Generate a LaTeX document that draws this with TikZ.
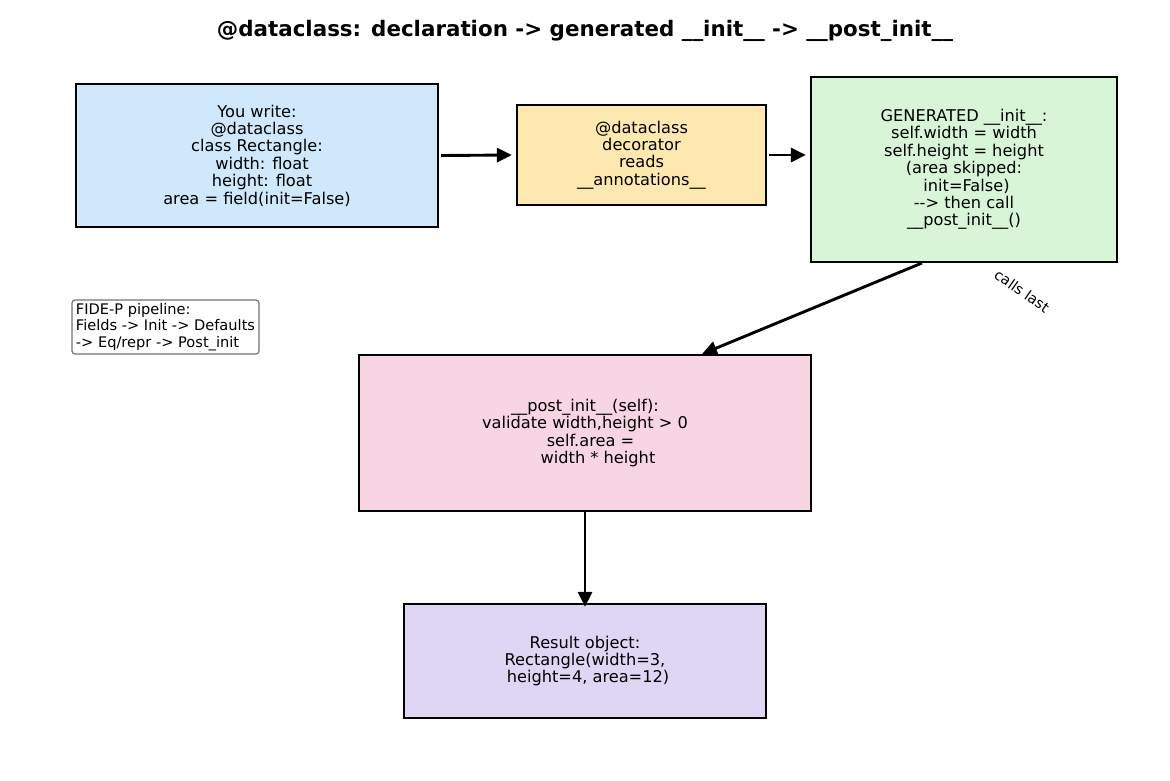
\documentclass[tikz,border=0pt]{standalone}
\usepackage{fontspec}
\setmainfont{DejaVu Sans}
\usetikzlibrary{arrows.meta}
\definecolor{cA}{HTML}{CFE8FC}
\definecolor{cB}{HTML}{FFE8B0}
\definecolor{cC}{HTML}{D8F5D8}
\definecolor{cD}{HTML}{F7D5E2}
\definecolor{cE}{HTML}{DFD6F5}
\begin{document}
\begin{tikzpicture}[x=1pt,y=-1pt,
  box/.style={draw=black,line width=2.2pt,align=center,inner sep=0pt,
    font=\fontsize{16.2}{17.4}\selectfont},
  conn/.style={line width=2.9pt,-{Triangle[length=15pt,width=14pt]}},
  note/.style={draw=black!55,line width=1.2pt,rounded corners=3pt,align=left,
    inner sep=3pt,font=\fontsize{14.6}{16.5}\selectfont}]
\useasboundingbox (0,0) rectangle (1170,780);
\fill[white] (0,0) rectangle (1170,780);
\node[font=\bfseries\fontsize{21.4}{24}\selectfont] (title) at (585,31)
  {@dataclass: declaration -> generated \_\_init\_\_ -> \_\_post\_init\_\_};
\node[box,fill=cA,minimum width=362pt,minimum height=143pt] (A) at (257,155.5)
  {You write:\\@dataclass\\class Rectangle:\\\hspace*{10pt}width: float\\\hspace*{10pt}height: float\\area = field(init=False)};
\node[box,fill=cB,minimum width=249pt,minimum height=100pt] (B) at (641.5,155)
  {@dataclass\\decorator\\reads\\\_\_annotations\_\_};
\node[box,fill=cC,minimum width=306pt,minimum height=185pt] (C) at (964,169.5)
  {GENERATED \_\_init\_\_:\\self.width = width\\self.height = height\\(area skipped:\\\hspace*{5pt}init=False)\\-{}-> then call\\\_\_post\_init\_\_()};
\node[box,fill=cD,minimum width=452pt,minimum height=156pt] (D) at (585,433)
  {\_\_post\_init\_\_(self):\\validate width,height > 0\\\hspace*{11pt}self.area =\\\hspace*{26pt}width * height};
\node[box,fill=cE,minimum width=362pt,minimum height=114pt] (E) at (585,661)
  {Result object:\\Rectangle(width=3,\\\hspace*{6pt}height=4, area=12)};
\node[note,minimum width=187pt,minimum height=54pt] (N) at (165.5,327) {FIDE-P pipeline:\\Fields -> Init -> Defaults\\-> Eq/repr -> Post\_init};
\coordinate (Cb) at (922,263);
\coordinate (Dt) at (702,354);
\draw[conn] ([xshift=2pt]A.east) -- ([xshift=-4pt]B.west);
\draw[conn] ([xshift=2pt]B.east) -- ([xshift=-4pt]C.west |- B.east);
\draw[conn] (Cb) -- (Dt);
\draw[conn] ([yshift=2pt]D.south) -- ([yshift=-4pt]E.north);
\node[rotate=-35,inner sep=0pt,font=\fontsize{14.4}{16}\selectfont] (L) at (1022,291) {calls last};
\end{tikzpicture}
\end{document}
